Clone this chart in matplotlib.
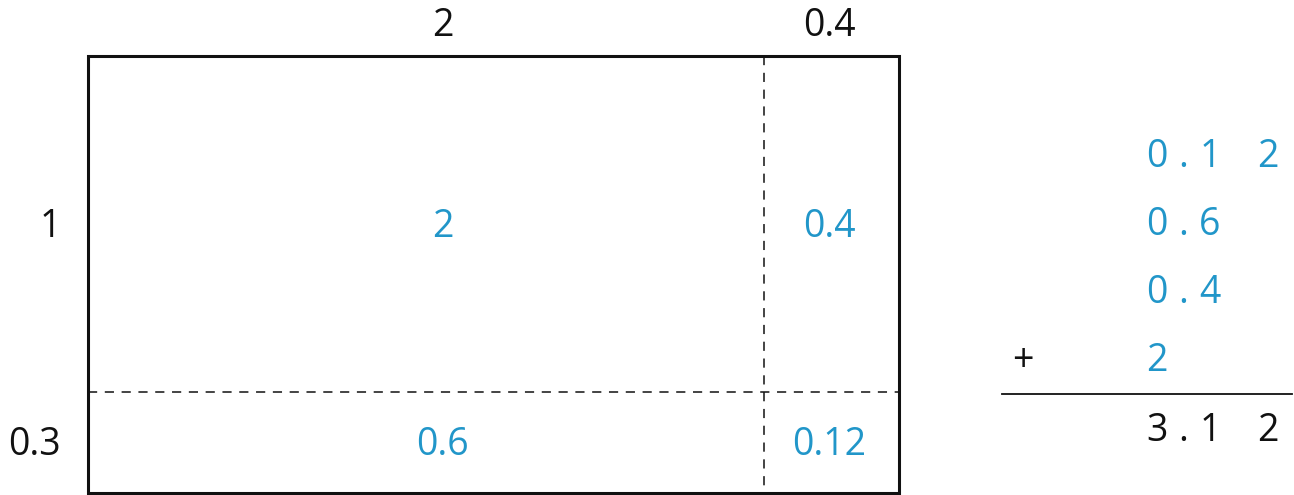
import matplotlib
matplotlib.use("Agg")
import matplotlib.pyplot as plt
from matplotlib.patches import Rectangle

# ---- data ----
COL_WIDTHS = [2, 0.4]
COL_LABELS = ["2", "0.4"]
ROW_HEIGHTS = [1, 0.3]
ROW_LABELS = ["1", "0.3"]
PRODUCTS = [["2", "0.4"], ["0.6", "0.12"]]
ADDENDS = ["0.12", "0.6", "0.4", "2"]
TOTAL = "3.12"

BLUE = "#2196C9"
INK = "#111111"
plt.rcParams["font.family"] = ["Open Sans", "DejaVu Sans"]
FS = 27

W, H = 1294, 495
fig = plt.figure(figsize=(W / 100, H / 100), dpi=100)
ax = fig.add_axes([0, 0, 1, 1])
# 1 unit of the area model ~ 338 px wide, 336 px tall; rectangle top-left at (88, 56)
SX, SY, X0, Y0 = 338.0, 336.0, 88.0, 56.0
ax.set_xlim(-X0 / SX, (W - X0) / SX)
ax.set_ylim((H - Y0) / SY, -Y0 / SY)
ax.axis("off")
DY = 3 / SY          # small nudge: va="center" sits digits a touch high
COL_NUDGE = [17 / SX, -2 / SX]   # labels in the reference sit a little off-centre

tot_w, tot_h = sum(COL_WIDTHS), sum(ROW_HEIGHTS)
ax.add_patch(Rectangle((0, 0), tot_w, tot_h, fill=False, ec=INK, lw=2.2, zorder=3))

# dashed dividers
xs = [0]
for w in COL_WIDTHS:
    xs.append(xs[-1] + w)
ys = [0]
for h in ROW_HEIGHTS:
    ys.append(ys[-1] + h)
for x in xs[1:-1]:
    ax.plot([x, x], [0, tot_h], color=INK, lw=1.1, ls=(0, (6, 5)))
for y in ys[1:-1]:
    ax.plot([0, tot_w], [y, y], color=INK, lw=1.1, ls=(0, (6, 5)))

# side labels
for i, lab in enumerate(COL_LABELS):
    ax.text((xs[i] + xs[i + 1]) / 2 + COL_NUDGE[i], -30 / SY, lab, ha="center", va="center",
            fontsize=FS, color=INK)
for j, lab in enumerate(ROW_LABELS):
    ax.text(-27 / SX, (ys[j] + ys[j + 1]) / 2 + DY, lab, ha="right", va="center",
            fontsize=FS, color=INK)

# cell products
for j in range(len(ROW_HEIGHTS)):
    for i in range(len(COL_WIDTHS)):
        ax.text((xs[i] + xs[i + 1]) / 2 + COL_NUDGE[i], (ys[j] + ys[j + 1]) / 2 + DY,
                PRODUCTS[j][i], ha="center", va="center", fontsize=FS, color=BLUE)

# ---- vertical addition (figure pixel coordinates) ----
COLX = {"ones": 1157, ".": 1183, "t": 1210, "h": 1268}


def put_number(s, ypx, color):
    parts = s.split(".")
    fig.text(COLX["ones"] / W, 1 - ypx / H, parts[0], ha="center", va="center",
             fontsize=FS, color=color)
    if len(parts) > 1:
        fig.text(COLX["."] / W, 1 - ypx / H, ".", ha="center", va="center",
                 fontsize=FS, color=color)
        for d, key in zip(parts[1], ["t", "h"]):
            fig.text(COLX[key] / W, 1 - ypx / H, d, ha="center", va="center",
                     fontsize=FS, color=color)


row_y = [157, 225, 293, 361]
for s, y in zip(ADDENDS, row_y):
    put_number(s, y, BLUE)
fig.text(1023 / W, 1 - 361 / H, "+", ha="center", va="center", fontsize=FS, color=INK)
fig.add_artist(plt.Line2D([1002 / W, 1292 / W], [1 - 394 / H, 1 - 394 / H],
                          color=INK, lw=1.3))
put_number(TOTAL, 431, INK)

fig.savefig("out.png", dpi=100, facecolor="white")
